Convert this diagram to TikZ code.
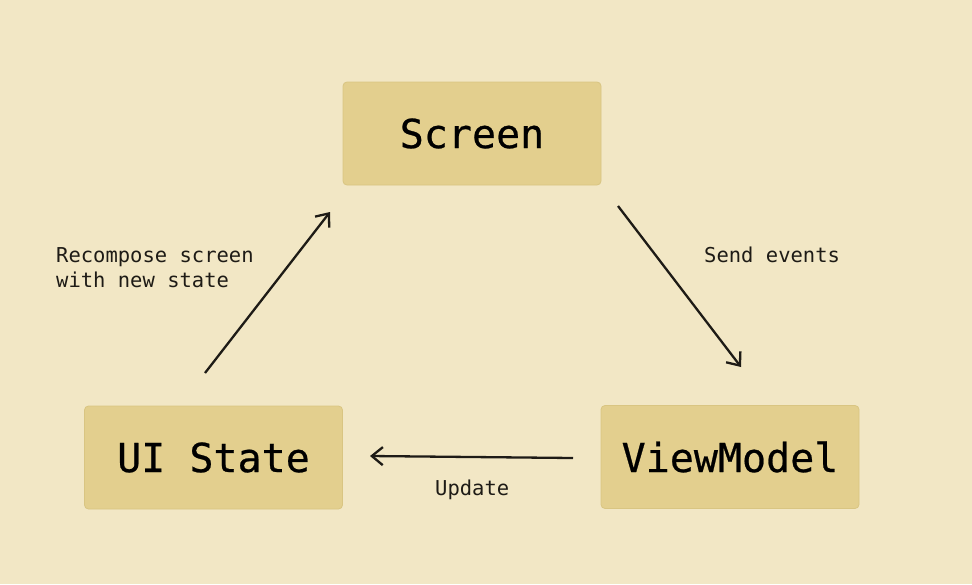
\documentclass[tikz,border=0pt]{standalone}
\usepackage{fontspec}
\usetikzlibrary{arrows.meta}
\newfontfamily\monofont{DejaVu Sans Mono}
\definecolor{paper}{HTML}{F2E7C5}
\definecolor{boxfill}{HTML}{E3CF8E}
\definecolor{boxline}{HTML}{D9C582}
\definecolor{ink}{HTML}{1E1B16}
\begin{document}
\begin{tikzpicture}[x=1pt,y=-1pt]
        \tikzstyle{state}=[rectangle,rounded corners=4pt,draw=boxline,line width=0.8pt,fill=boxfill,minimum width=258pt,minimum height=103pt,text=black,font=\monofont\fontsize{40}{40}\selectfont\addfontfeature{FakeBold=0.6}]
        \tikzstyle{note}=[inner sep=0pt,text=ink,font=\monofont\fontsize{20.5}{25}\selectfont]
        \tikzstyle{flow}=[draw=ink,line width=2.3pt,-{Straight Barb[length=11pt,width=18pt,line width=2.3pt]}]
       % background and frame
       \fill[paper] (0,0) rectangle (972,584);

         \node [state] (screen) at (472,133.5) {Screen};
         \node [state] (uistate) at (213.5,457.5) {UI State};
         \node [state] (vm) at (730,457) {ViewModel};

         \coordinate (e1) at (618,206);
         \coordinate (e2) at (741,367);
         \coordinate (u1) at (573,458);
         \coordinate (u2) at (370,456);
         \coordinate (r1) at (205,373);
         \coordinate (r2) at (330,212);

 		\path[flow] (e1) -- (e2);
 		\path[flow] (u1) -- (u2);
 		\path[flow] (r1) -- (r2);

         \node [note,anchor=base west] (send) at (704,262) {Send events};
         \node [note,anchor=base west] (update) at (435,495) {Update};
         \node [note,anchor=north west,align=left] (recompose) at (56,247) {Recompose screen\\with new state};
      \end{tikzpicture}
\end{document}
